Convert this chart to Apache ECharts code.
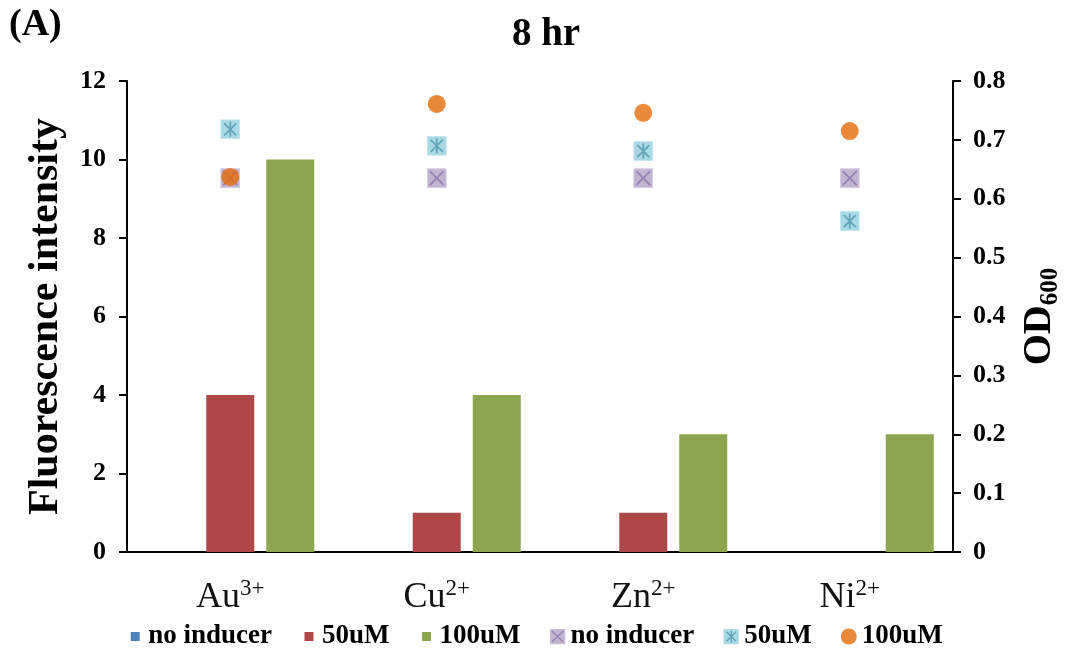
<!DOCTYPE html>
<html>
<head>
<meta charset="utf-8">
<script src="https://cdn.jsdelivr.net/npm/echarts@6/dist/echarts.min.js"></script>
<style>html,body{margin:0;padding:0;background:#fff;}#chart{width:1070px;height:657px;}</style>
</head>
<body>
<div id="chart"></div>
<script>
// ---- data ----
const categories = ['Au', 'Cu', 'Zn', 'Ni'];
const charges = ['3+', '2+', '2+', '2+'];
const fluoNoInducer = [0, 0, 0, 0];
const fluo50 = [4, 1, 1, 0];
const fluo100 = [10, 4, 3, 3];
const odNoInducer = [0.635, 0.635, 0.635, 0.635];
const od50 = [0.718, 0.690, 0.681, 0.562];
const od100 = [0.637, 0.761, 0.746, 0.715];
const leftTicks = { min: 0, max: 12, interval: 2 };
const rightTicks = { min: 0, max: 0.8, interval: 0.1 };

const FONT = "'Liberation Serif', 'Times New Roman', serif";
function svgImg(svg) { return 'image://data:image/svg+xml;utf8,' + encodeURIComponent(svg); }
const symPurple = svgImg("<svg xmlns='http://www.w3.org/2000/svg' width='20' height='20' viewBox='0 0 20 20'><rect x='0.5' y='0.5' width='19' height='19' fill='#b4a3c8' stroke='#cbbfdc' stroke-width='1'/><path d='M3 3L17 17M17 3L3 17' stroke='#7c62a0' stroke-width='1.8' fill='none'/></svg>");
const symCyan = svgImg("<svg xmlns='http://www.w3.org/2000/svg' width='20' height='20' viewBox='0 0 20 20'><rect x='0.5' y='0.5' width='19' height='19' fill='#95d0e0' stroke='#b6e0ea' stroke-width='1'/><path d='M10 2.5V17.5M4 4L16 16M16 4L4 16' stroke='#3a8fa8' stroke-width='1.8' fill='none'/></svg>");
const symOrange = 'circle';
function sq(c) { return svgImg("<svg xmlns='http://www.w3.org/2000/svg' width='16' height='16' viewBox='0 0 16 16'><rect x='3.5' y='3.5' width='9' height='9' fill='" + c + "'/></svg>"); }

const cBlue = '#4f81bd', cRed = '#ad4748', cGreen = '#8ba64f', cOrange = '#e36c0a';

const chart = echarts.init(document.getElementById('chart'), null, { renderer: 'canvas' });
chart.setOption({
  animation: false,
  backgroundColor: '#fff',
  textStyle: { fontFamily: FONT },
  title: {
    text: '8 hr', left: 541, top: 10, textAlign: 'center',
    textStyle: { fontFamily: FONT, fontWeight: 'bold', fontSize: 39, color: '#000' }
  },
  graphic: [{
    type: 'text', left: 9, top: 6,
    style: { text: '(A)', fontFamily: FONT, fontWeight: 'bold', fontSize: 38, fill: '#000' }
  }],
  legend: {
    bottom: 2, left: 'center', itemWidth: 16, itemHeight: 16, itemGap: 29,
    textStyle: { fontFamily: FONT, fontWeight: 'bold', fontSize: 27, color: '#000' },
    formatter: n => n.trim(),
    data: [
      { name: 'no inducer', icon: sq(cBlue) },
      { name: '50uM', icon: sq(cRed) },
      { name: '100uM', icon: sq(cGreen) },
      { name: 'no inducer ', icon: symPurple },
      { name: '50uM ', icon: symCyan },
      { name: '100uM ', icon: 'circle' }
    ]
  },
  grid: { left: 127, right: 117, top: 81, bottom: 105, outerBoundsMode: 'none', containLabel: false },
  xAxis: {
    type: 'category', data: categories,
    axisLine: { lineStyle: { color: '#000', width: 2 } },
    axisTick: { show: false },
    axisLabel: {
      margin: 25,
      formatter: (v, i) => '{a|' + v + '}{s|' + charges[i] + '}',
      rich: {
        a: { fontFamily: FONT, fontSize: 36, color: '#111', lineHeight: 42 },
        s: { fontFamily: FONT, fontSize: 23, color: '#111', verticalAlign: 'top' }
      }
    }
  },
  yAxis: [{
    type: 'value', min: leftTicks.min, max: leftTicks.max, interval: leftTicks.interval,
    name: 'Fluorescence intensity', nameLocation: 'middle', nameGap: 60,
    nameTextStyle: { fontFamily: FONT, fontWeight: 'bold', fontSize: 42, color: '#000' },
    axisLine: { show: true, lineStyle: { color: '#000', width: 2 } },
    axisTick: { show: true, length: 8, lineStyle: { color: '#000', width: 2 } },
    splitLine: { show: false },
    axisLabel: { margin: 21, fontFamily: FONT, fontWeight: 'bold', fontSize: 26, color: '#000' }
  }, {
    type: 'value', min: rightTicks.min, max: rightTicks.max, interval: rightTicks.interval,
    position: 'right',
    name: '{a|OD}{b|600}', nameLocation: 'middle', nameGap: 64, nameRotate: 90,
    nameTextStyle: {
      rich: {
        a: { fontFamily: FONT, fontWeight: 'bold', fontSize: 40, color: '#000', lineHeight: 46 },
        b: { fontFamily: FONT, fontWeight: 'bold', fontSize: 25, color: '#000', verticalAlign: 'bottom' }
      }
    },
    axisLine: { show: true, lineStyle: { color: '#000', width: 2 } },
    axisTick: { show: true, length: 8, lineStyle: { color: '#000', width: 2 } },
    splitLine: { show: false },
    axisLabel: { margin: 20, fontFamily: FONT, fontWeight: 'bold', fontSize: 26, color: '#000',
      formatter: v => (v === 0 ? '0' : v.toFixed(1)) }
  }],
  series: [
    { name: 'no inducer', type: 'bar', data: fluoNoInducer, itemStyle: { color: cBlue }, barWidth: 48, barGap: '25%' },
    { name: '50uM', type: 'bar', data: fluo50, itemStyle: { color: cRed }, barWidth: 48, barGap: '25%' },
    { name: '100uM', type: 'bar', data: fluo100, itemStyle: { color: cGreen }, barWidth: 48, barGap: '25%' },
    { name: 'no inducer ', type: 'scatter', yAxisIndex: 1, data: odNoInducer, symbol: symPurple, symbolSize: 20, itemStyle: { color: '#b4a3c8' } },
    { name: '50uM ', type: 'scatter', yAxisIndex: 1, data: od50, symbol: symCyan, symbolSize: 20, itemStyle: { color: '#95d0e0' } },
    { name: '100uM ', type: 'scatter', yAxisIndex: 1, data: od100, symbol: symOrange, symbolSize: 18, itemStyle: { color: cOrange } }
  ]
});
</script>
</body>
</html>
